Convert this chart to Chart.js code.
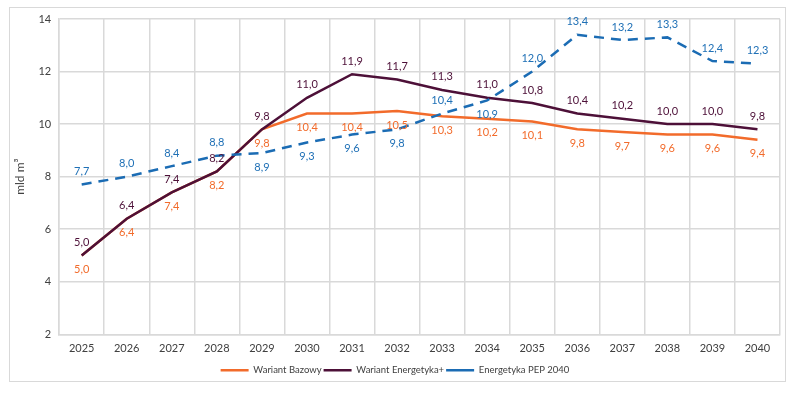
<!DOCTYPE html>
<html>
<head>
<meta charset="utf-8">
<script src="https://cdn.jsdelivr.net/npm/chart.js@4"></script>
<style>
  body { margin: 0; background: #fff; }
  #wrap { position: relative; width: 801px; height: 411px; }
  #frame { position: absolute; left: 9px; top: 7px; width: 775px; height: 373px; border: 1.5px solid #d9d9d9; }
  canvas { position: absolute; left: 0; top: 0; }
</style>
</head>
<body>
<div id="wrap">
  <div id="frame"></div>
  <canvas id="chart" width="801" height="411"></canvas>
</div>
<script>
// dane
const years = ['2025','2026','2027','2028','2029','2030','2031','2032','2033','2034','2035','2036','2037','2038','2039','2040'];
const bazowy = [5.0, 6.4, 7.4, 8.2, 9.8, 10.4, 10.4, 10.5, 10.3, 10.2, 10.1, 9.8, 9.7, 9.6, 9.6, 9.4];
const energetykaPlus = [5.0, 6.4, 7.4, 8.2, 9.8, 11.0, 11.9, 11.7, 11.3, 11.0, 10.8, 10.4, 10.2, 10.0, 10.0, 9.8];
const pep2040 = [7.7, 8.0, 8.4, 8.8, 8.9, 9.3, 9.6, 9.8, 10.4, 10.9, 12.0, 13.4, 13.2, 13.3, 12.4, 12.3];
const yTicks = [2, 4, 6, 8, 10, 12, 14];

const FONT = 'Lato, "Open Sans", sans-serif';

// gdzie rysować etykiety (nad / pod linią)
const labelSide = {
  0: bazowy.map(() => 'below'),
  1: energetykaPlus.map(() => 'above'),
  2: ['above','above','above','above','below','below','below','below','above','below','above','above','above','above','above','above']
};

const valueLabels = {
  id: 'valueLabels',
  afterDatasetsDraw(chart) {
    const ctx = chart.ctx;
    ctx.save();
    ctx.font = '11px ' + FONT;
    ctx.textAlign = 'center';
    ctx.textBaseline = 'middle';
    chart.data.datasets.forEach((ds, i) => {
      const meta = chart.getDatasetMeta(i);
      ctx.fillStyle = ds.labelColor;
      meta.data.forEach((pt, j) => {
        const side = labelSide[i][j];
        const dy = side === 'above' ? -13 : 14;
        ctx.fillText(ds.data[j].toFixed(1).replace('.', ','), pt.x, pt.y + dy);
      });
    });
    ctx.restore();
  }
};

new Chart(document.getElementById('chart'), {
  type: 'line',
  data: {
    labels: years,
    datasets: [
      { label: 'Wariant Bazowy', data: bazowy, borderColor: '#f26b2b', backgroundColor: '#f26b2b', labelColor: '#f26b2b', borderWidth: 2.5, pointRadius: 0, tension: 0, order: 3 },
      { label: 'Wariant Energetyka+', data: energetykaPlus, borderColor: '#4d1038', backgroundColor: '#4d1038', labelColor: '#4d1038', borderWidth: 2.5, pointRadius: 0, tension: 0, order: 2 },
      { label: 'Energetyka PEP 2040', data: pep2040, borderColor: '#1b6cb4', backgroundColor: '#1b6cb4', labelColor: '#1f70b6', borderWidth: 2.5, borderDash: [10, 7], pointRadius: 0, tension: 0, order: 1 }
    ]
  },
  options: {
    responsive: false,
    animation: false,
    layout: { padding: { left: 10, right: 21, top: 19, bottom: 26 } },
    plugins: {
      legend: {
        position: 'bottom',
        labels: {
          usePointStyle: true,
          pointStyle: 'line',
          pointStyleWidth: 28,
          boxHeight: 6,
          padding: 2,
          color: '#404040',
          font: { family: FONT, size: 9.5 },
          sort: (a, b) => a.datasetIndex - b.datasetIndex
        }
      },
      tooltip: { enabled: false }
    },
    scales: {
      x: {
        offset: true,
        grid: { color: '#d9d9d9', lineWidth: 1.5, offset: true, drawTicks: false },
        border: { color: '#d9d9d9', width: 1.5 },
        ticks: { color: '#404040', font: { family: FONT, size: 11 }, padding: 8 }
      },
      y: {
        min: 2, max: 14,
        afterBuildTicks: (axis) => { axis.ticks = yTicks.map(v => ({ value: v })); },
        grid: { color: '#d9d9d9', lineWidth: 1.5, drawTicks: false },
        border: { color: '#d9d9d9', width: 1.5 },
        ticks: { color: '#404040', font: { family: FONT, size: 11 }, padding: 8 },
        title: { display: true, text: 'mld m³', color: '#404040', font: { family: FONT, size: 12 }, padding: 3 }
      }
    }
  },
  plugins: [valueLabels]
});
</script>
</body>
</html>
